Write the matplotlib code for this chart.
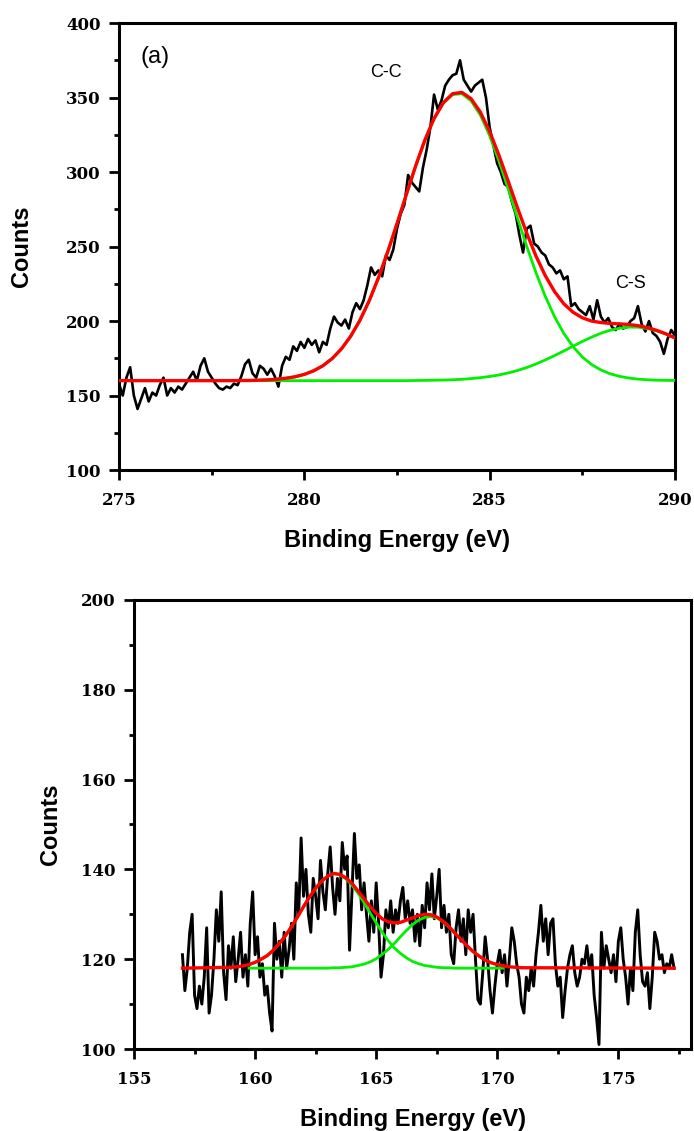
import numpy as np
import matplotlib
matplotlib.use("Agg")
import matplotlib.pyplot as plt
from matplotlib.ticker import MultipleLocator

# ---- panel (a) : C 1s ----
# raw counts, 275.0 -> 290.0 eV every 0.1 eV
c1s_start = 275.0
c1s_counts = [158, 150, 162, 169, 150, 141, 148, 155, 146, 152,
              150, 157, 162, 150, 155, 152, 156, 154, 158, 162,
              166, 160, 170, 175, 166, 162, 158, 155, 154, 156,
              155, 158, 157, 163, 171, 174, 165, 162, 170, 168,
              164, 168, 163, 156, 170, 176, 174, 183, 180, 186,
              182, 188, 184, 187, 179, 186, 184, 195, 203, 199,
              197, 201, 195, 206, 212, 208, 214, 224, 236, 231,
              234, 230, 244, 241, 248, 262, 272, 278, 298, 293,
              290, 287, 303, 315, 330, 352, 342, 348, 358, 362,
              365, 366, 375, 362, 358, 354, 358, 360, 362, 350,
              330, 318, 306, 300, 292, 290, 280, 272, 258, 246,
              262, 264, 252, 250, 246, 244, 238, 236, 232, 234,
              228, 230, 210, 212, 208, 206, 204, 210, 201, 214,
              203, 199, 202, 196, 194, 198, 195, 196, 200, 202,
              210, 198, 193, 200, 192, 190, 186, 178, 188, 194,
              190]

c1s_fit_x = [278.25, 278.5, 278.75, 279.0, 279.25, 279.5, 279.75, 280.0,
             280.25, 280.5, 280.75, 281.0, 281.25, 281.5, 281.75, 282.0,
             282.25, 282.5, 282.75, 283.0, 283.25, 283.5, 283.75, 284.0,
             284.25, 284.5, 284.75, 285.0, 285.25, 285.5, 285.75, 286.0,
             286.25, 286.5, 286.75, 287.0, 287.25, 287.5, 287.75, 288.0,
             288.25, 288.5, 288.75, 289.0, 289.25, 289.5, 289.75, 290.0]
cc_peak = [160.1, 160.1, 160.3, 160.5, 160.9, 161.6, 162.6, 164.2,
           166.6, 170.0, 174.8, 181.3, 189.8, 200.5, 213.6, 229.1,
           246.5, 265.4, 284.8, 303.8, 321.2, 335.7, 346.2, 352.0,
           352.6, 347.8, 338.2, 324.4, 307.5, 288.7, 269.2, 250.2,
           232.4, 216.6, 203.0, 191.7, 182.8, 175.9, 170.8, 167.2,
           164.6, 162.9, 161.8, 161.0, 160.6, 160.3, 160.2, 160.1]
cs_peak = [160.0, 160.0, 160.0, 160.0, 160.0, 160.0, 160.0, 160.0,
           160.0, 160.0, 160.0, 160.0, 160.0, 160.0, 160.0, 160.0,
           160.0, 160.0, 160.0, 160.1, 160.2, 160.3, 160.4, 160.6,
           160.9, 161.4, 162.0, 162.8, 163.8, 165.2, 166.8, 168.8,
           171.2, 173.9, 176.8, 179.9, 183.1, 186.3, 189.2, 191.8,
           193.8, 195.2, 195.9, 195.9, 195.0, 193.5, 191.3, 188.6]
c1s_env_x = [275.0, 278.0] + c1s_fit_x
c1s_envelope = [160.0, 160.0,
                160.1, 160.1, 160.3, 160.5, 160.9, 161.6, 162.6, 164.2,
                166.6, 170.0, 174.8, 181.3, 189.8, 200.5, 213.6, 229.1,
                246.5, 265.4, 284.8, 303.9, 321.4, 336.0, 346.6, 352.6,
                353.5, 349.2, 340.2, 327.2, 311.3, 293.9, 276.0, 259.0,
                243.6, 230.5, 219.8, 211.6, 205.9, 202.2, 200.0, 199.0,
                198.4, 198.1, 197.7, 196.9, 195.6, 193.8, 191.5, 188.7]

# ---- panel (b) : S 2p ----
# raw counts, 157.0 -> 177.3 eV every 0.1 eV
s2p_start = 157.0
s2p_counts = [121, 113, 118, 126, 130, 112, 109, 114, 110, 116,
              127, 108, 112, 120, 131, 124, 135, 117, 111, 123,
              118, 125, 115, 120, 126, 116, 121, 114, 128, 135,
              121, 125, 116, 119, 112, 114, 108, 104, 128, 120,
              124, 116, 126, 118, 122, 128, 120, 137, 130, 147,
              134, 140, 130, 126, 138, 134, 129, 142, 135, 131,
              139, 145, 136, 130, 138, 133, 146, 140, 143, 122,
              135, 148, 138, 141, 131, 137, 130, 124, 133, 126,
              137, 128, 116, 121, 131, 127, 133, 126, 131, 128,
              133, 136, 129, 133, 128, 131, 124, 130, 123, 132,
              127, 137, 131, 139, 129, 134, 140, 127, 132, 126,
              130, 121, 119, 127, 131, 124, 129, 121, 131, 126,
              130, 120, 111, 110, 117, 125, 120, 113, 108, 114,
              119, 122, 117, 121, 114, 120, 127, 124, 119, 116,
              110, 108, 116, 113, 118, 114, 121, 126, 132, 124,
              129, 121, 128, 129, 119, 114, 116, 107, 113, 118,
              121, 123, 117, 114, 116, 120, 119, 123, 118, 121,
              112, 107, 101, 126, 118, 123, 120, 117, 121, 115,
              124, 127, 120, 116, 110, 118, 113, 126, 131, 121,
              115, 114, 117, 109, 116, 126, 124, 120, 121, 117,
              119, 118, 121, 118]

s2p_fit_x = [159.75, 160.0, 160.25, 160.5, 160.75, 161.0, 161.25, 161.5,
             161.75, 162.0, 162.25, 162.5, 162.75, 163.0, 163.25, 163.5,
             163.75, 164.0, 164.25, 164.5, 164.75, 165.0, 165.25, 165.5,
             165.75, 166.0, 166.25, 166.5, 166.75, 167.0, 167.25, 167.5,
             167.75, 168.0, 168.25, 168.5, 168.75, 169.0, 169.25, 169.5,
             169.75, 170.0, 170.25]
s_peak1 = [118.8, 119.3, 120.0, 120.8, 122.0, 123.5, 125.2, 127.2,
           129.4, 131.7, 133.9, 135.8, 137.4, 138.5, 139.0, 138.8,
           137.9, 136.5, 134.7, 132.6, 130.3, 128.1, 126.0, 124.1,
           122.5, 121.3, 120.3, 119.5, 119.0, 118.6, 118.4, 118.2,
           118.1, 118.1, 118.0, 118.0, 118.0, 118.0, 118.0, 118.0,
           118.0, 118.0, 118.0]
s_peak2 = [118.0, 118.0, 118.0, 118.0, 118.0, 118.0, 118.0, 118.0,
           118.0, 118.0, 118.0, 118.0, 118.0, 118.0, 118.1, 118.1,
           118.2, 118.3, 118.6, 118.9, 119.4, 120.1, 121.1, 122.2,
           123.5, 125.0, 126.4, 127.7, 128.7, 129.3, 129.5, 129.2,
           128.4, 127.2, 125.8, 124.4, 123.0, 121.7, 120.7, 119.8,
           119.2, 118.8, 118.5]
s2p_env_x = [157.0, 159.0, 159.25, 159.5] + s2p_fit_x + [170.5, 171.0, 177.3]
s2p_envelope = [118.0, 118.2, 118.3, 118.5,
                118.8, 119.3, 120.0, 120.8, 122.0, 123.5, 125.2, 127.2,
                129.4, 131.7, 133.9, 135.8, 137.4, 138.5, 139.1, 138.9,
                138.1, 136.9, 135.2, 133.5, 131.7, 130.2, 129.0, 128.3,
                128.1, 128.2, 128.7, 129.2, 129.7, 130.0, 129.9, 129.4,
                128.5, 127.3, 125.8, 124.4, 123.0, 121.7, 120.7, 119.8,
                119.2, 118.8, 118.5,
                118.3, 118.1, 118.0]

c1s_x = c1s_start + 0.1 * np.arange(len(c1s_counts))
s2p_x = s2p_start + 0.1 * np.arange(len(s2p_counts))

red = "#ff0000"
green = "#00f000"
tick_font = "DejaVu Serif"
label_font = "Liberation Sans"


def style_axes(ax, xmaj, xmin, ymaj, ymin):
    for sp in ax.spines.values():
        sp.set_linewidth(2.2)
    ax.xaxis.set_major_locator(MultipleLocator(xmaj))
    ax.xaxis.set_minor_locator(MultipleLocator(xmin))
    ax.yaxis.set_major_locator(MultipleLocator(ymaj))
    ax.yaxis.set_minor_locator(MultipleLocator(ymin))
    ax.tick_params(which="major", direction="out", length=7, width=2)
    ax.tick_params(which="minor", direction="out", length=3.5, width=2)
    ax.tick_params(axis="x", which="major", pad=9)
    ax.tick_params(axis="y", which="major", pad=6)
    for lab in ax.get_xticklabels() + ax.get_yticklabels():
        lab.set_fontfamily(tick_font)
        lab.set_fontweight("bold")
        lab.set_fontsize(12)
    ax.set_xlabel("Binding Energy (eV)", fontfamily=label_font,
                  fontweight="bold", fontsize=17, labelpad=14)
    ax.set_ylabel("Counts", fontfamily=label_font, fontweight="bold",
                  fontsize=17)


fig = plt.figure(figsize=(6.94, 11.31), dpi=100)

# top panel
ax1 = fig.add_axes([0.1715, 0.5844, 0.8011, 0.3952])
ax1.plot(c1s_x, c1s_counts, color="black", lw=1.9, zorder=2)
ax1.plot(c1s_fit_x, cc_peak, color=green, lw=2.0, zorder=3)
ax1.plot(c1s_fit_x, cs_peak, color=green, lw=2.0, zorder=3)
ax1.plot(c1s_env_x, c1s_envelope, color=red, lw=2.4, zorder=4)
ax1.set_xlim(275, 290)
ax1.set_ylim(100, 400)
style_axes(ax1, 5, 2.5, 50, 25)
ax1.yaxis.set_label_coords(-0.155, 0.5)
ax1.text(0.065, 0.924, "(a)", transform=ax1.transAxes, ha="center",
         va="center", fontfamily=label_font, fontsize=17)
ax1.text(282.2, 367, "C-C", ha="center", va="center",
         fontfamily=label_font, fontsize=13)
ax1.text(288.8, 225.5, "C-S", ha="center", va="center",
         fontfamily=label_font, fontsize=13)

# bottom panel
ax2 = fig.add_axes([0.1931, 0.0725, 0.8026, 0.397])
ax2.plot(s2p_x, s2p_counts, color="black", lw=2.1, zorder=2)
ax2.plot(s2p_fit_x, s_peak1, color=green, lw=2.0, zorder=3)
ax2.plot(s2p_fit_x, s_peak2, color=green, lw=2.0, zorder=3)
ax2.plot(s2p_env_x, s2p_envelope, color=red, lw=2.4, zorder=4)
ax2.set_xlim(155, 178)
ax2.set_ylim(100, 200)
style_axes(ax2, 5, 2.5, 20, 10)
ax2.yaxis.set_label_coords(-0.129, 0.5)

fig.savefig("out.png", dpi=100)
